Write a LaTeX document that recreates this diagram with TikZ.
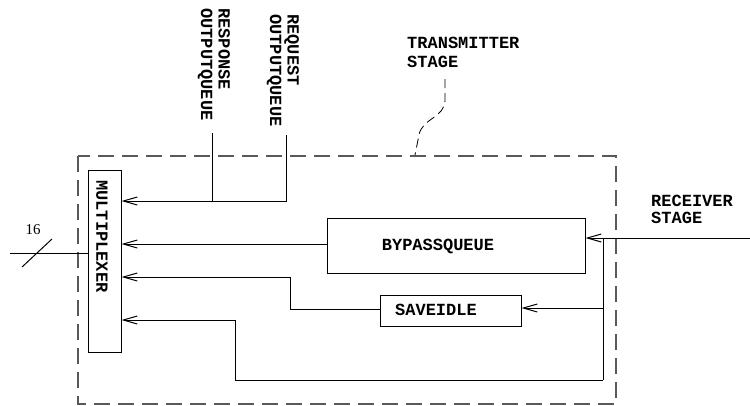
\documentclass[tikz,border=0pt]{standalone}
\usepackage{fontspec}
\setmainfont{Liberation Serif}
\setmonofont{Liberation Mono}
\usetikzlibrary{arrows.meta}

\begin{document}
\begin{tikzpicture}[
	x=1pt, y=-1pt,
	line cap=butt,
	line join=miter,
	lbl/.style={font=\ttfamily\bfseries\fontsize{17}{17.5}\selectfont, inner sep=0pt, align=left},
	blk/.style={draw, line width=1pt, inner sep=0pt},
	wire/.style={line width=1pt},
	arr/.style={line width=1pt, -{Straight Barb[length=14pt,width=8pt,line width=1pt]}}
	]
	
	\useasboundingbox (0,0) rectangle (750,405);
	
	% transmitter stage frame
	\draw[gray!70!black, line width=1.2pt, dash pattern=on 16pt off 8pt] (78,156) rectangle (616,404);
	\node[lbl, anchor=west, font=\ttfamily\bfseries\fontsize{17}{19}\selectfont] (tx) at (407,52) {TRANSMITTER\\STAGE};
	\draw[line width=0.8pt, dash pattern=on 9pt off 5pt]
	(445,79) -- (445,100) .. controls (445,118) and (422,118) .. (419,135) -- (415,155);
	
	% blocks
	\node[blk, minimum width=33pt, minimum height=182pt] (mux) at (104.5,261) {};
	\node[lbl, rotate=-90, anchor=west] (muxtext) at (102,180) {MULTIPLEXER};
	\node[blk, minimum width=258pt, minimum height=55pt] (bypass) at (456,245.5) {};
	\node[lbl] (bypasstext) at (438,246) {BYPASSQUEUE};
	\node[blk, minimum width=141pt, minimum height=31pt] (save) at (450.5,310.5) {};
	\node[lbl] (savetext) at (436,310) {SAVEIDLE};
	
	% output queues
	\node[lbl, rotate=-90, anchor=west] (resptext) at (214,8) {RESPONSE\\OUTPUTQUEUE};
	\node[lbl, rotate=-90, anchor=west] (reqtext) at (283,14) {REQUEST\\OUTPUTQUEUE};
	\coordinate (resp) at (212,133);
	\coordinate (req) at (286,135);
	\coordinate (qjoin) at (212,201);
	\draw[arr] (req) |- (qjoin -| mux.east);
	\draw[wire] (resp) -- (qjoin);
	
	% receiver side
	\node[lbl, anchor=west] (rxtext) at (651,209.5) {RECEIVER\\STAGE};
	\coordinate (rx) at (750,238);
	\coordinate (split) at (603,238);
	\coordinate (loop) at (235,380);
	\draw[arr] (rx) -- (rx -| bypass.east);
	\draw[wire] (split) -- (split |- loop);
	\draw[arr] (split |- 0,308) -- (save.east |- 0,308);
	
	% into the multiplexer
	\draw[arr] (bypass.west |- 0,244) -- (mux.east |- 0,244);
	\draw[arr] (save.west |- 0,309) -| (290,277) -- (mux.east |- 0,277);
	\draw[arr] (split |- loop) -- (loop) |- (mux.east |- 0,320);
	
	% 16 bit input
	\coordinate (in) at (10,253);
	\draw[wire] (in) -- (in -| mux.west);
	\draw[wire] (22,267) -- (52,239);
	\node[font=\fontsize{15}{15}\selectfont, inner sep=0pt] (width) at (33,230) {16};
	
\end{tikzpicture}
\end{document}
